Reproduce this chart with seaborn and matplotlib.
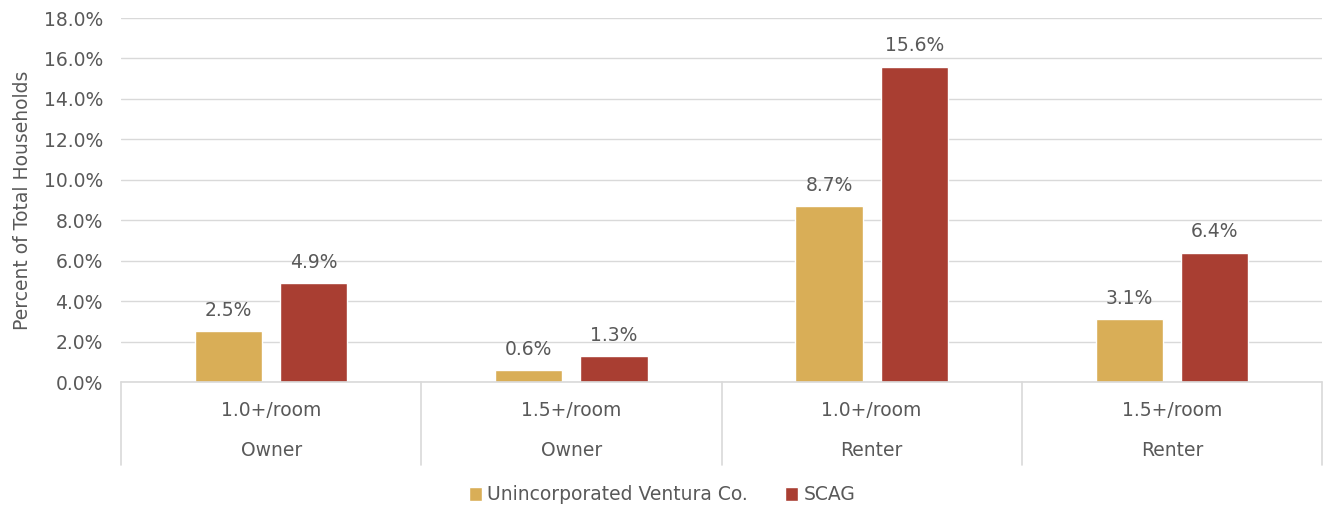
import matplotlib
matplotlib.use("Agg")
import matplotlib.pyplot as plt
import matplotlib.transforms as mtransforms
from matplotlib.ticker import FuncFormatter
import seaborn as sns
import pandas as pd

# --- data ---
tenure = ["Owner", "Owner", "Renter", "Renter"]
crowding = ["1.0+/room", "1.5+/room", "1.0+/room", "1.5+/room"]
ventura = [2.5, 0.6, 8.7, 3.1]
scag = [4.9, 1.3, 15.6, 6.4]
series_names = ["Unincorporated Ventura Co.", "SCAG"]
y_ticks = [0, 2, 4, 6, 8, 10, 12, 14, 16, 18]

COLORS = ["#D9AE57", "#A93E32"]
TEXT = "#595959"
GRID = "#D9D9D9"
FS = 13.5

sns.set_theme(style="white")
plt.rcParams["font.family"] = ["DejaVu Sans"]

groups = [f"{c}\n{t}" for c, t in zip(crowding, tenure)]
df = pd.DataFrame({
    "group": groups * 2,
    "value": ventura + scag,
    "series": [series_names[0]] * 4 + [series_names[1]] * 4,
})

fig = plt.figure(figsize=(13.24, 5.09), dpi=100)
ax = fig.add_axes([121 / 1324, 1 - 382 / 509, 1201 / 1324, 364 / 509])

sns.barplot(data=df, x="group", y="value", hue="series", palette=COLORS,
            width=0.567, gap=0.21, ax=ax, legend=True, saturation=1)

ax.set_ylim(0, 18)
ax.set_xlim(-0.5, 3.5)
ax.set_yticks(y_ticks)
ax.yaxis.set_major_formatter(FuncFormatter(lambda v, p: f"{v:.1f}%"))
ax.tick_params(axis="y", labelsize=FS, labelcolor=TEXT, length=0, pad=13)
ax.set_xticks([])
ax.set_xlabel("")
ax.set_ylabel("Percent of Total Households", fontsize=13.5, color=TEXT)
ax.yaxis.set_label_coords(-89 / 1201, 0.5)
ax.yaxis.grid(True, color=GRID, linewidth=1)
ax.set_axisbelow(True)
for s in ax.spines.values():
    s.set_visible(False)

# value labels
for cont in ax.containers:
    ax.bar_label(cont, labels=[f"{v:.1f}%" for v in cont.datavalues],
                 padding=8, fontsize=FS, color=TEXT)

# category axis: baseline, separators and two-level labels
trans = mtransforms.blended_transform_factory(ax.transData, ax.transAxes)
ax.plot([-0.5, 3.5], [0, 0], color=GRID, linewidth=1.2, transform=trans, clip_on=False)
for xb in [-0.5, 0.5, 1.5, 2.5, 3.5]:
    ax.plot([xb, xb], [0, -83 / 364], color=GRID, linewidth=1.2,
            transform=trans, clip_on=False)
for i, (c, t) in enumerate(zip(crowding, tenure)):
    ax.text(i, -28 / 364, c, transform=trans, ha="center", va="center",
            fontsize=FS, color=TEXT)
    ax.text(i, -68 / 364, t, transform=trans, ha="center", va="center",
            fontsize=FS, color=TEXT)

ax.legend(loc="center", bbox_to_anchor=(0.5, 1 - 495 / 509), bbox_transform=fig.transFigure,
          ncol=2, frameon=False, fontsize=FS, handlelength=0.7, handleheight=0.7,
          handletextpad=0.3, columnspacing=1.95, labelcolor=TEXT)

fig.savefig("out.png", dpi=100, facecolor="white")
